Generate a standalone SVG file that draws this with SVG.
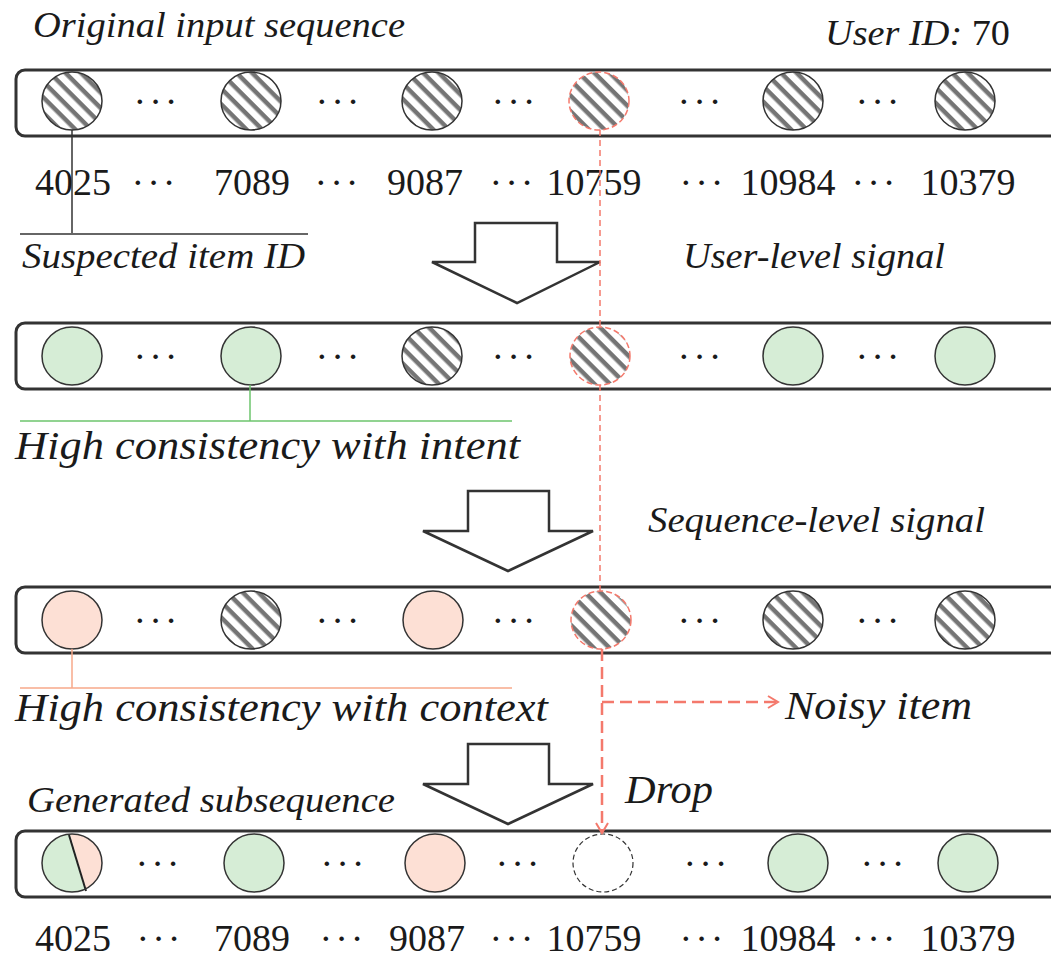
<svg xmlns="http://www.w3.org/2000/svg" width="1051" height="960" viewBox="0 0 1051 960">
<defs>
<pattern id="hatch" patternUnits="userSpaceOnUse" width="11" height="11" patternTransform="rotate(45)">
<rect x="0" y="0" width="11" height="11" fill="#ffffff"/>
<rect x="0" y="3" width="11" height="4.5" fill="#757575"/>
</pattern>
<marker id="arr" markerWidth="16" markerHeight="16" refX="12" refY="8" orient="auto" markerUnits="userSpaceOnUse">
<path d="M2,2 L12,8 L2,14" fill="none" stroke="#f4796c" stroke-width="2"/>
</marker>
<clipPath id="clipL"><polygon points="30,820 66,820 89,900 30,900"/></clipPath>
<clipPath id="clipR"><polygon points="66,820 120,820 120,900 89,900"/></clipPath>
</defs>
<style>
.box{fill:#ffffff;stroke:#333333;stroke-width:3}
.c{stroke:#333333;stroke-width:1.5}
.h{fill:url(#hatch)}
.g{fill:#d6edd6}
.p{fill:#fde0d5}
.red{stroke:#f4796c;stroke-width:1.5;stroke-dasharray:6 4}
.num{font-family:"Liberation Serif",serif;font-size:38px;fill:#1a1a1a;text-anchor:middle}
.dots{font-family:"Liberation Serif",serif;font-size:38px;fill:#1a1a1a;text-anchor:middle;letter-spacing:3px}
.lab{font-family:"Liberation Serif",serif;font-style:italic;fill:#1a1a1a}
.blk{fill:#ffffff;stroke:#333333;stroke-width:2.5;stroke-linejoin:miter}
</style>

<text class="lab" x="33" y="37" font-size="36" textLength="372" lengthAdjust="spacingAndGlyphs">Original input sequence</text>
<text class="lab" x="825" y="45" font-size="36" textLength="185" lengthAdjust="spacingAndGlyphs">User ID: <tspan font-style="normal">70</tspan></text>

<g id="row1">
<rect class="box" x="16" y="70" width="1060" height="66" rx="9"/>
<ellipse class="c h" cx="72" cy="101" rx="30" ry="29"/>
<ellipse class="c h" cx="251" cy="101" rx="30" ry="29"/>
<ellipse class="c h" cx="432" cy="101" rx="30" ry="29"/>
<ellipse class="h" cx="599" cy="101" rx="30" ry="29" stroke="#f4796c" stroke-width="1.5" stroke-dasharray="6 3"/>
<ellipse class="c h" cx="793" cy="101" rx="30" ry="29"/>
<ellipse class="c h" cx="965" cy="101" rx="30" ry="29"/>
<text class="dots" x="157" y="114">···</text>
<text class="dots" x="339" y="114">···</text>
<text class="dots" x="515" y="114">···</text>
<text class="dots" x="701" y="114">···</text>
<text class="dots" x="879" y="114">···</text>
</g>

<g id="row1-ids">
<text class="num" x="73" y="195">4025</text>
<text class="dots" x="155" y="195">···</text>
<text class="num" x="252" y="195">7089</text>
<text class="dots" x="338" y="195">···</text>
<text class="num" x="425" y="195">9087</text>
<text class="dots" x="513" y="195">···</text>
<text class="num" x="594" y="195">10759</text>
<text class="dots" x="703" y="195">···</text>
<text class="num" x="788" y="195">10984</text>
<text class="dots" x="875" y="195">···</text>
<text class="num" x="968" y="195">10379</text>
</g>

<g id="label-suspected">
<line x1="72" y1="130" x2="72" y2="233" stroke="#333333" stroke-width="1.5"/>
<line x1="20" y1="234" x2="308" y2="234" stroke="#333333" stroke-width="1.5"/>
<text class="lab" x="22" y="268" font-size="35" textLength="283" lengthAdjust="spacingAndGlyphs">Suspected item ID</text>
</g>

<g id="arrow1">
<polygon class="blk" points="475,223 557,223 557,262 600,262 517,303 432,262 475,262"/>
</g>
<text class="lab" x="683" y="268" font-size="35" textLength="262" lengthAdjust="spacingAndGlyphs">User-level signal</text>

<g id="row2">
<rect class="box" x="16" y="323" width="1060" height="66" rx="9"/>
<ellipse class="c g" cx="72" cy="356" rx="30" ry="29"/>
<ellipse class="c g" cx="251" cy="356" rx="30" ry="29"/>
<ellipse class="c h" cx="432" cy="356" rx="30" ry="29"/>
<ellipse class="h" cx="600" cy="356" rx="30" ry="29" stroke="#f4796c" stroke-width="1.5" stroke-dasharray="6 3"/>
<ellipse class="c g" cx="793" cy="356" rx="30" ry="29"/>
<ellipse class="c g" cx="965" cy="356" rx="30" ry="29"/>
<text class="dots" x="157" y="369">···</text>
<text class="dots" x="339" y="369">···</text>
<text class="dots" x="515" y="369">···</text>
<text class="dots" x="701" y="369">···</text>
<text class="dots" x="879" y="369">···</text>
</g>

<g id="label-intent">
<line x1="250" y1="385" x2="250" y2="421" stroke="#6cc46c" stroke-width="1.5"/>
<line x1="20" y1="421" x2="512" y2="421" stroke="#6cc46c" stroke-width="1.5"/>
<text class="lab" x="15" y="459" font-size="40" textLength="505" lengthAdjust="spacingAndGlyphs">High consistency with intent</text>
</g>

<g id="arrow2">
<polygon class="blk" points="468,491 549,491 549,531 593,531 508,571 423,531 468,531"/>
</g>
<text class="lab" x="648" y="532" font-size="35" textLength="337" lengthAdjust="spacingAndGlyphs">Sequence-level signal</text>

<g id="row3">
<rect class="box" x="16" y="587" width="1060" height="66" rx="9"/>
<ellipse class="c p" cx="72" cy="620" rx="30" ry="29"/>
<ellipse class="c h" cx="251" cy="620" rx="30" ry="29"/>
<ellipse class="c p" cx="433" cy="620" rx="30" ry="29"/>
<ellipse class="h" cx="601" cy="620" rx="30" ry="29" stroke="#f4796c" stroke-width="1.5" stroke-dasharray="6 3"/>
<ellipse class="c h" cx="793" cy="620" rx="30" ry="29"/>
<ellipse class="c h" cx="965" cy="620" rx="30" ry="29"/>
<text class="dots" x="157" y="633">···</text>
<text class="dots" x="339" y="633">···</text>
<text class="dots" x="515" y="633">···</text>
<text class="dots" x="701" y="633">···</text>
<text class="dots" x="879" y="633">···</text>
</g>

<g id="label-context">
<line x1="72" y1="649" x2="72" y2="688" stroke="#f7a98a" stroke-width="1.5"/>
<line x1="20" y1="688" x2="512" y2="688" stroke="#f7a98a" stroke-width="1.5"/>
<text class="lab" x="15" y="721" font-size="40" textLength="533" lengthAdjust="spacingAndGlyphs">High consistency with context</text>
</g>

<g id="arrow3">
<polygon class="blk" points="468,744 549,744 549,784 593,784 508,824 423,784 468,784"/>
</g>
<text class="lab" x="785" y="719" font-size="40" textLength="187" lengthAdjust="spacingAndGlyphs">Noisy item</text>
<text class="lab" x="625" y="803" font-size="40" textLength="88" lengthAdjust="spacingAndGlyphs">Drop</text>
<text class="lab" x="27" y="812" font-size="36" textLength="368" lengthAdjust="spacingAndGlyphs">Generated subsequence</text>

<g id="row4">
<rect class="box" x="16" y="831" width="1060" height="66" rx="9"/>
<g clip-path="url(#clipL)"><ellipse cx="72" cy="863" rx="30" ry="29" fill="#d6edd6"/></g>
<g clip-path="url(#clipR)"><ellipse cx="72" cy="863" rx="30" ry="29" fill="#fde0d5"/></g>
<line x1="69" y1="835" x2="86" y2="891" stroke="#222222" stroke-width="2"/>
<ellipse cx="72" cy="863" rx="30" ry="29" fill="none" stroke="#333333" stroke-width="1.5"/>
<ellipse class="c g" cx="254" cy="863" rx="30" ry="29"/>
<ellipse class="c p" cx="435" cy="863" rx="30" ry="29"/>
<ellipse cx="603" cy="863" rx="30" ry="29" fill="none" stroke="#333333" stroke-width="1.2" stroke-dasharray="5 3"/>
<ellipse class="c g" cx="798" cy="863" rx="30" ry="29"/>
<ellipse class="c g" cx="968" cy="863" rx="30" ry="29"/>
<text class="dots" x="159" y="876">···</text>
<text class="dots" x="344" y="876">···</text>
<text class="dots" x="519" y="876">···</text>
<text class="dots" x="707" y="876">···</text>
<text class="dots" x="884" y="876">···</text>
</g>

<g id="row4-ids">
<text class="num" x="73" y="951">4025</text>
<text class="dots" x="160" y="951">···</text>
<text class="num" x="252" y="951">7089</text>
<text class="dots" x="343" y="951">···</text>
<text class="num" x="427" y="951">9087</text>
<text class="dots" x="513" y="951">···</text>
<text class="num" x="594" y="951">10759</text>
<text class="dots" x="703" y="951">···</text>
<text class="num" x="788" y="951">10984</text>
<text class="dots" x="875" y="951">···</text>
<text class="num" x="968" y="951">10379</text>
</g>

<g id="connectors">
<line class="red" x1="600" y1="130" x2="600" y2="327"/>
<line class="red" x1="600" y1="385" x2="600" y2="591"/>
<line x1="602" y1="649" x2="602" y2="833" stroke="#f4796c" stroke-width="2.5" stroke-dasharray="12 6" marker-end="url(#arr)"/>
<line x1="602" y1="702" x2="778" y2="702" stroke="#f4796c" stroke-width="2.5" stroke-dasharray="12 6" marker-end="url(#arr)"/>
</g>
</svg>
